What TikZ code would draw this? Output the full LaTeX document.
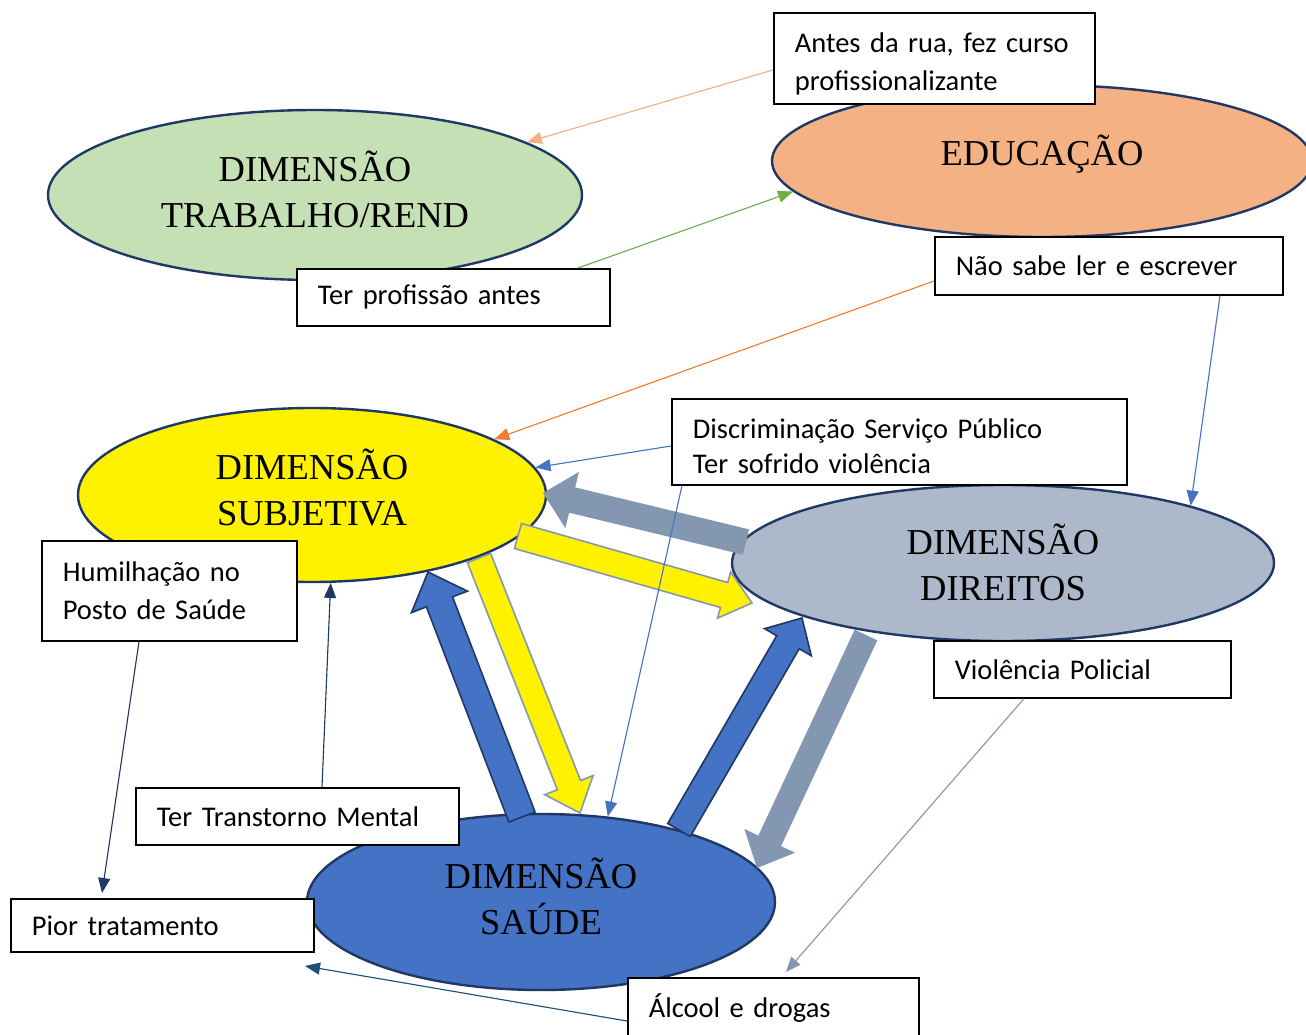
\documentclass[tikz,border=0pt]{standalone}
\usepackage{fontspec}
\setmainfont{Liberation Serif}
\newfontfamily\boxfont{Carlito}
\usetikzlibrary{shapes.geometric,arrows.meta,calc}
\definecolor{cNavy}{HTML}{1F3864}
\definecolor{cTrab}{HTML}{C5E0B4}
\definecolor{cEduc}{HTML}{F4B183}
\definecolor{cDir}{HTML}{ADB9CA}
\definecolor{cSaude}{HTML}{4472C4}
\definecolor{cGrayArr}{HTML}{8497B0}
\definecolor{cGreen}{HTML}{70AD47}
\definecolor{cOrange}{HTML}{ED7D31}
\definecolor{cDarkBlue}{HTML}{1F4E79}
\newcommand{\blockarr}[6]{%
  \coordinate (ba-t) at #2;
  \coordinate (ba-h) at #3;
  \coordinate (ba-b) at ($(ba-h)!#6!(ba-t)$);
  \path[#1] ($(ba-t)!#4!90:(ba-h)$) -- ($(ba-b)!#4!90:(ba-h)$) -- ($(ba-b)!#5!90:(ba-h)$)
    -- (ba-h) -- ($(ba-b)!#5!-90:(ba-h)$) -- ($(ba-b)!#4!-90:(ba-h)$) -- ($(ba-t)!#4!-90:(ba-h)$) -- cycle;
}
\begin{document}
\begin{tikzpicture}[x=1pt,y=-1pt,
  ell/.style={ellipse, draw=cNavy, line width=2.4pt, inner sep=0pt, align=center,
    font=\fontsize{36.5}{46}\selectfont},
  box/.style={draw=black, line width=1.6pt, fill=white, anchor=north west,
    font=\boxfont\fontsize{28.5}{38}\selectfont, align=left, inner xsep=21pt, inner ysep=0pt},
  thin/.style={line width=1.1pt, -{Triangle[length=15pt,width=12pt]}},
  yarr/.style={fill=yellow, draw=cGrayArr, line width=1.6pt, line join=miter},
  barr/.style={fill=cSaude, draw=cNavy, line width=1.6pt, line join=miter},
  garr/.style={fill=cGrayArr}]
\useasboundingbox (0,0) rectangle (1306,1035);
\fill[white] (0,0) rectangle (1306,1035);

% ellipses
\node[ell, fill=cTrab, minimum width=534pt, minimum height=170pt, text depth=12pt] (trab) at (315,195) {DIMENSÃO\\TRABALHO/REND};
\node[ell, fill=cEduc, minimum width=540pt, minimum height=152pt, text depth=21pt] (educ) at (1042,161) {EDUCAÇÃO};
\node[ell, fill=yellow, minimum width=468pt, minimum height=174pt, text depth=15pt] (subj) at (312,495) {DIMENSÃO\\SUBJETIVA};
\node[ell, fill=cDir, minimum width=542pt, minimum height=156pt, text depth=2pt] (dir) at (1003,563) {DIMENSÃO\\DIREITOS};
\node[ell, fill=cSaude, minimum width=468pt, minimum height=176pt, text depth=12pt] (saude) at (541,902) {DIMENSÃO\\SAÚDE};

% block arrows
\blockarr{garr}{(746,542)}{(543,493)}{13pt}{29pt}{30pt}
\blockarr{yarr}{(518,536)}{(752,603)}{13pt}{24pt}{29pt}
\blockarr{yarr}{(479,558)}{(580,813)}{12.5pt}{26pt}{30pt}
\blockarr{barr}{(522,817)}{(428,572)}{14pt}{30pt}{32pt}
\blockarr{barr}{(679,830)}{(802,618)}{13pt}{27pt}{28pt}
\blockarr{garr}{(866,635)}{(757,868)}{12.5pt}{28pt}{30pt}

% boxes
\node[box, minimum height=91pt, text width=279pt, text height=30pt] (antes) at (773,12) {Antes da rua, fez curso\\profissionalizante};
\node[box, minimum height=57pt, text width=271pt] (terprof) at (296,268) {Ter profissão antes};
\node[box, minimum height=58pt, text width=306pt] (naosabe) at (934,236) {Não sabe ler e escrever};
\node[box, minimum height=86pt, text width=413pt, text height=28pt, font=\boxfont\fontsize{28.5}{35}\selectfont] (discr) at (671,398) {Discriminação Serviço Público\\Ter sofrido violência};
\node[box, minimum height=100pt, text width=213pt] (humil) at (41,540) {Humilhação no\\Posto de Saúde};
\node[box, minimum height=57pt, text width=255pt] (viol) at (933,640) {Violência Policial};
\node[box, minimum height=57pt, text width=281pt] (transt) at (135,787) {Ter Transtorno Mental};
\node[box, minimum height=53pt, text width=261pt] (pior) at (10,898) {Pior tratamento};
\node[box, minimum height=61pt, text width=249pt] (alcool) at (627,977) {Álcool e drogas};
\coordinate (alcend) at (305,966);

% thin connectors
\draw[thin, draw=cEduc, fill=cEduc] ($(antes.north west)+(0,58)$) -- (trab.14);
\draw[thin, draw=cGreen, fill=cGreen] ($(terprof.north west)+(282,0)$) -- (educ.187);
\draw[thin, draw=cOrange, fill=cOrange] ($(naosabe.north west)+(0,45)$) -- (subj.17);
\draw[thin, draw=cSaude, fill=cSaude] ($(naosabe.south west)+(286,0)$) -- (dir.17);
\draw[thin, draw=cSaude, fill=cSaude] ($(discr.north west)+(0,48)$) -- (subj.7);
\draw[thin, draw=cSaude, fill=cSaude] ($(discr.south west)+(11,0)$) -- (saude.52);
\draw[thin, draw=cNavy, fill=cNavy] ($(humil.south west)+(98,0)$) -- ($(pior.north west)+(92,-5)$);
\draw[thin, draw=cNavy, fill=cNavy] ($(transt.north west)+(187,0)$) -- (subj.-78);
\draw[thin, draw=cGrayArr, fill=cGrayArr] ($(viol.south west)+(91,0)$) -- ($(alcool.north west)+(159,-5)$);
\draw[thin, draw=cDarkBlue, fill=cDarkBlue] ($(alcool.north west)+(0,44)$) -- (alcend);
\end{tikzpicture}
\end{document}
